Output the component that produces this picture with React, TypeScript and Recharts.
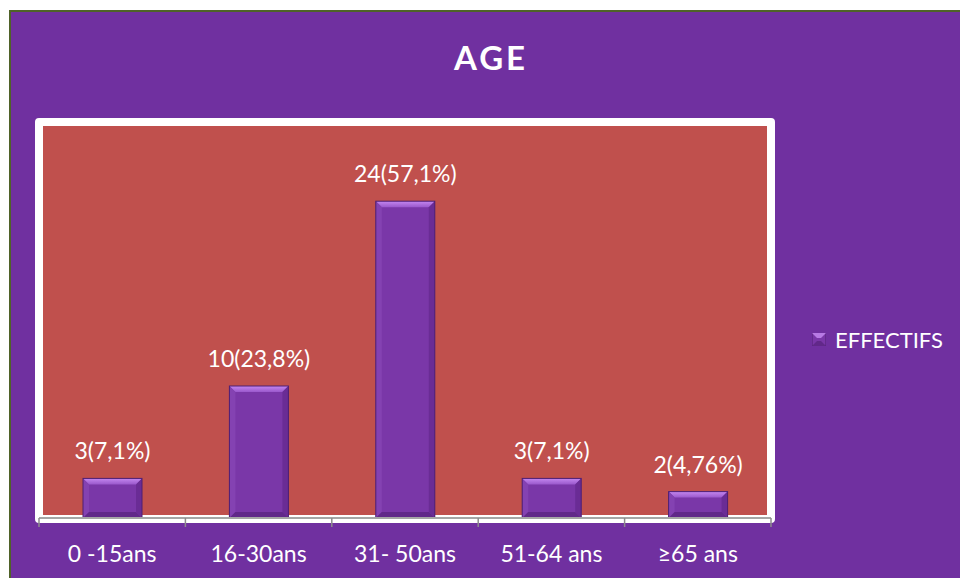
import React from 'react';
import { BarChart, Bar, XAxis, YAxis, LabelList, Legend } from 'recharts';

const categories = ['0 -15ans', '16-30ans', '31- 50ans', '51-64 ans', '≥65 ans'];
const effectifs = [3, 10, 24, 3, 2];
const barLabels = ['3(7,1%)', '10(23,8%)', '24(57,1%)', '3(7,1%)', '2(4,76%)'];
const yTicks = [0, 30];

const data = categories.map((name, i) => ({
  name,
  value: effectifs[i],
  label: barLabels[i],
}));

const FONT = 'Lato, "Open Sans", sans-serif';

const BevelBar = (props: any) => {
  const { x, y, width: w, height: h } = props;
  if (!h || h <= 0) return null;
  const b = Math.min(6, h / 3, w / 4);
  return (
    <g>
      <rect x={x} y={y} width={w} height={h} fill="#7A37A8" />
      <polygon
        points={`${x},${y} ${x + w},${y} ${x + w - b},${y + b} ${x + b},${y + b}`}
        fill="url(#bevelTop)"
      />
      <polygon
        points={`${x},${y} ${x + b},${y + b} ${x + b},${y + h - b} ${x},${y + h}`}
        fill="#8442B2"
      />
      <polygon
        points={`${x + w},${y} ${x + w - b},${y + b} ${x + w - b},${y + h - b} ${x + w},${y + h}`}
        fill="#6A2C95"
      />
      <polygon
        points={`${x},${y + h} ${x + b},${y + h - b} ${x + w - b},${y + h - b} ${x + w},${y + h}`}
        fill="#612889"
      />
      <rect x={x} y={y} width={w} height={h} fill="none" stroke="#4E1F72" strokeWidth={1} />
    </g>
  );
};

// tick marks sit on the category boundaries, labels in the middle
const AxisTick = (props: any) => {
  const { x, y, payload, index, visibleTicksCount } = props;
  const half = payload && payload.offset ? payload.offset : 73.2;
  const top = y - 28;
  const isLast = index === (visibleTicksCount ?? categories.length) - 1;
  return (
    <g>
      <line x1={x - half} y1={top} x2={x - half} y2={top + 9} stroke="#8C8C8C" strokeWidth={1.5} />
      {isLast && <line x1={x + half} y1={top} x2={x + half} y2={top + 9} stroke="#8C8C8C" strokeWidth={1.5} />}
      <text x={x} y={y} dy="0.71em" textAnchor="middle" fill="#fff" fontSize={23} fontFamily={FONT}>
        {payload.value}
      </text>
    </g>
  );
};

const LegendContent = () => (
  <div style={{ display: 'flex', alignItems: 'center', height: 26 }}>
    <svg width={14} height={13} style={{ display: 'block' }}>
      <rect x={0} y={0} width={14} height={13} fill="#7A37A8" stroke="#4E1F72" />
      <polygon points="0,0 14,0 9,5 5,5" fill="#B77AE4" />
      <polygon points="0,13 14,13 9,8 5,8" fill="#612889" />
    </svg>
    <span style={{ marginLeft: 9, color: '#fff', fontSize: 22, fontFamily: FONT }}>EFFECTIFS</span>
  </div>
);

export default function App() {
  return (
    <div style={{ position: 'absolute', left: 0, top: 0, width: 960, height: 578, background: '#fff', overflow: 'hidden' }}>
      {/* chart area frame */}
      <div
        style={{
          position: 'absolute', left: 9, top: 10, width: 960, height: 578,
          background: '#7030A0', borderLeft: '2px solid #4F6228', borderTop: '2px solid #4F6228',
        }}
      />
      {/* plot area with white border */}
      <div
        style={{
          position: 'absolute', left: 35, top: 118, width: 740, height: 405, boxSizing: 'border-box',
          background: '#C0504D', border: '8px solid #fff', borderRadius: 4,
        }}
      />
      <svg width={960} height={100} style={{ position: 'absolute', left: 0, top: 0 }}>
        <text x={491} y={70} textAnchor="middle" fill="#fff" fontFamily={FONT} fontWeight={700} fontSize={33} letterSpacing={3}>
          AGE
        </text>
      </svg>
      <div style={{ position: 'absolute', left: 0, top: 0 }}>
        <BarChart width={960} height={578} data={data} margin={{ top: 122, right: 189, bottom: 0, left: 39 }}>
          <defs>
            <linearGradient id="bevelTop" x1="0" y1="0" x2="0" y2="1">
              <stop offset="0%" stopColor="#C487F0" />
              <stop offset="100%" stopColor="#9A58CC" />
            </linearGradient>
          </defs>
          <XAxis
            dataKey="name"
            height={60}
            stroke="#A6A6A6"
            strokeWidth={2}
            tickSize={8}
            tickMargin={20}
            tickLine={false}
            tick={<AxisTick />}
            interval={0}
          />
          <YAxis hide domain={[0, 30]} ticks={yTicks} />
          <Legend
            layout="vertical"
            align="center"
            verticalAlign="middle"
            content={<LegendContent />}
            wrapperStyle={{ left: 812, top: 326, width: 140 }}
          />
          <Bar dataKey="value" name="EFFECTIFS" barSize={59} shape={BevelBar} isAnimationActive={false}>
            <LabelList dataKey="label" position="top" offset={19} fill="#fff" fontSize={23} fontFamily={FONT} />
          </Bar>
        </BarChart>
      </div>
    </div>
  );
}
